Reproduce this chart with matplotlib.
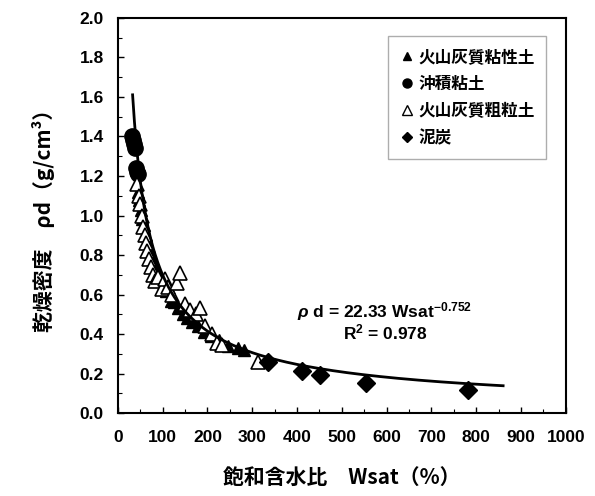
import numpy as np
import matplotlib.pyplot as plt
from matplotlib.lines import Line2D

plt.rcParams['font.family'] = ['Liberation Sans', 'Noto Sans CJK JP', 'DejaVu Sans']
plt.rcParams['font.weight'] = 'bold'
plt.rcParams['mathtext.fontset'] = 'custom'
plt.rcParams['mathtext.rm'] = 'Liberation Sans:bold'
plt.rcParams['mathtext.it'] = 'Liberation Sans:italic:bold'
plt.rcParams['mathtext.bf'] = 'Liberation Sans:bold'

jp = ['Noto Sans CJK JP', 'DejaVu Sans']

# 火山灰質粘性土 (filled triangles)
volc_clay_w = [45, 48, 52, 55, 58, 62, 66, 70, 75, 80, 86, 92, 100, 108, 118, 125, 135, 145,
               155, 165, 178, 192, 208, 225, 245, 268, 282]
volc_clay_rho = [1.12, 1.08, 1.03, 0.98, 0.95, 0.90, 0.87, 0.84, 0.80, 0.76, 0.73, 0.69, 0.65,
                 0.62, 0.57, 0.56, 0.53, 0.50, 0.48, 0.46, 0.44, 0.41, 0.39, 0.37, 0.34, 0.33, 0.32]

# 沖積粘土 (filled circles)
alluv_w = [31, 34, 36, 38, 41, 43, 45]
alluv_rho = [1.40, 1.38, 1.36, 1.34, 1.24, 1.22, 1.21]

# 火山灰質粗粒土 (open triangles)
volc_coarse_w = [42, 47, 50, 54, 57, 60, 63, 66, 70, 74, 78, 83, 90, 98, 105, 112, 120, 131,
                 138, 150, 162, 175, 183, 195, 210, 221, 232, 313]
volc_coarse_rho = [1.16, 1.10, 1.06, 1.00, 0.94, 0.90, 0.86, 0.82, 0.78, 0.74, 0.70, 0.67, 0.69,
                   0.63, 0.68, 0.64, 0.60, 0.66, 0.71, 0.55, 0.52, 0.50, 0.53, 0.44, 0.40, 0.355,
                   0.345, 0.26]

# 泥炭 (diamonds)
peat_w = [335, 411, 451, 553, 781]
peat_rho = [0.26, 0.215, 0.195, 0.155, 0.115]

# fitted curve
fit_a = 22.33
fit_b = -0.752

labels = ['火山灰質粘性土', '沖積粘土', '火山灰質粗粒土', '泥炭']

fig = plt.figure(figsize=(5.95, 4.96), dpi=100)
ax = fig.add_axes([0.198, 0.167, 0.753, 0.797])

ax.plot(volc_clay_w, volc_clay_rho, '^', color='black', ms=9, mew=1)
ax.plot(alluv_w, alluv_rho, 'o', color='black', ms=11)
ax.plot(volc_coarse_w, volc_coarse_rho, '^', mfc='white', mec='black', ms=10, mew=1.2)
ax.plot(peat_w, peat_rho, 'D', color='black', ms=9)

xs = np.linspace(33, 860, 400)
ax.plot(xs, fit_a * xs ** fit_b, color='black', lw=2)

ax.text(596, 0.515, r'$\rho$ d = 22.33 Wsat$^{-0.752}$', ha='center', va='center', fontsize=12.5)
ax.text(596, 0.41, r'R$^2$ = 0.978', ha='center', va='center', fontsize=12.5)

ax.set_xlim(0, 1000)
ax.set_ylim(0, 2.0)
ax.set_xticks(np.arange(0, 1001, 100))
ax.set_xticks(np.arange(0, 1001, 50), minor=True)
ax.set_yticks(np.arange(0, 2.01, 0.2))
ax.set_yticks(np.arange(0, 2.01, 0.1), minor=True)
ax.set_yticklabels([f'{v:.1f}' for v in np.arange(0, 2.01, 0.2)])
ax.tick_params(which='both', direction='in', top=False, right=False)
ax.tick_params(which='major', length=4, width=1, labelsize=12.5)
ax.tick_params(which='minor', length=3, width=0.8)
ax.tick_params(axis='x', pad=12)
ax.tick_params(axis='y', pad=10)
for s in ax.spines.values():
    s.set_linewidth(1.5)

ax.set_xlabel('飽和含水比　Wsat（%）', family=jp, fontsize=15, fontweight='bold', labelpad=16)
ax.set_ylabel('乾燥密度　ρd（g/cm³）', family=jp, fontsize=15, fontweight='bold', labelpad=18)

handles = [
    Line2D([], [], ls='none', marker='^', color='black', ms=6),
    Line2D([], [], ls='none', marker='o', color='black', ms=6.5),
    Line2D([], [], ls='none', marker='^', mfc='white', mec='black', ms=7, mew=1),
    Line2D([], [], ls='none', marker='D', color='black', ms=5),
]
leg = ax.legend(handles, labels, loc='upper right', bbox_to_anchor=(0.975, 0.975),
                prop={'family': jp, 'size': 12, 'weight': 'bold'},
                handlelength=0.8, handletextpad=0.3, labelspacing=0.55,
                fancybox=False, edgecolor='#999999', borderpad=0.7)
leg.get_frame().set_linewidth(1)

fig.savefig('out.png', dpi=100)
